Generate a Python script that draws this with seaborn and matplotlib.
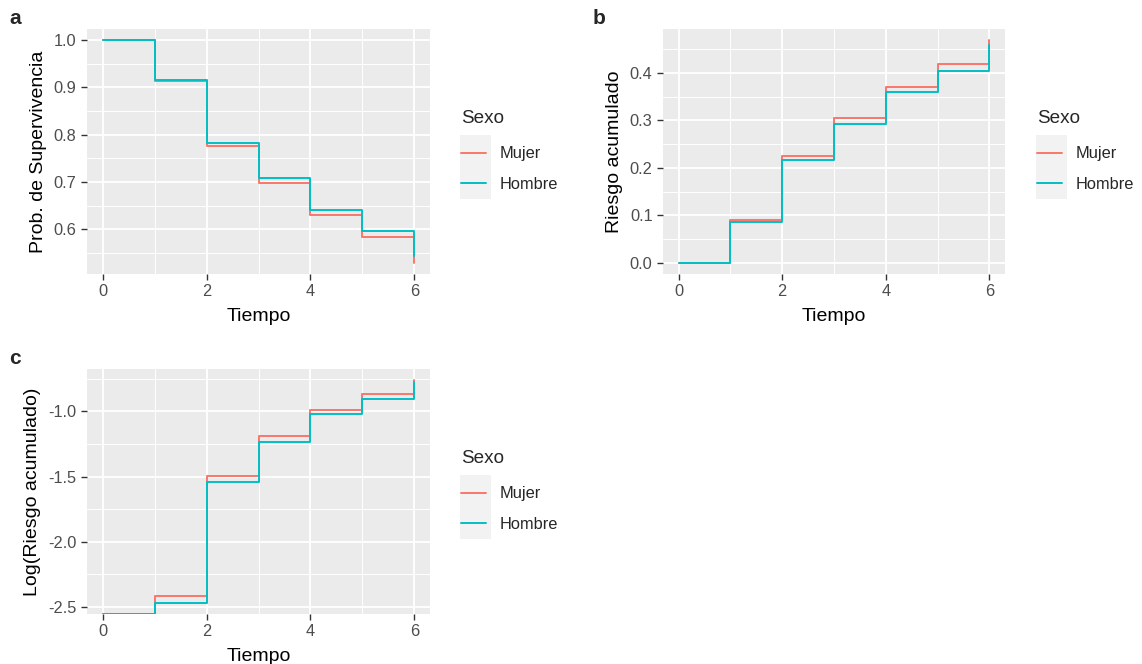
import numpy as np
import pandas as pd
import matplotlib.pyplot as plt
from matplotlib.patches import Rectangle
from matplotlib.ticker import MultipleLocator
import seaborn as sns

tiempo = [0, 1, 2, 3, 4, 5, 6]
sexo = ['Mujer', 'Hombre']
colores = ['#F8766D', '#00BFC4']

superv_mujer = [1.0, 0.913, 0.776, 0.697, 0.630, 0.583, 0.529]
superv_hombre = [1.0, 0.915, 0.783, 0.708, 0.640, 0.596, 0.544]

riesgo_mujer = [0.0, 0.090, 0.226, 0.304, 0.370, 0.418, 0.469]
riesgo_hombre = [0.0, 0.087, 0.217, 0.292, 0.359, 0.403, 0.458]

# log(0) = -Inf at t=0, drawn at the bottom edge of the panel like ggplot
logr_mujer = [-np.inf, -2.415, -1.496, -1.190, -0.990, -0.871, -0.761]
logr_hombre = [-np.inf, -2.469, -1.539, -1.234, -1.023, -0.905, -0.776]

sns.set_style('darkgrid', {'axes.facecolor': '#EBEBEB', 'grid.color': 'white'})
plt.rcParams['font.family'] = ['Liberation Sans', 'DejaVu Sans']
plt.rcParams['axes.unicode_minus'] = False

W, H = 1142, 664
fig = plt.figure(figsize=(W / 100, H / 100), dpi=100)


def tabla(mujer, hombre):
    return pd.DataFrame({'Tiempo': tiempo * 2,
                         'valor': list(mujer) + list(hombre),
                         'Sexo': ['Mujer'] * len(tiempo) + ['Hombre'] * len(tiempo)})


def panel(rect, df, ylabel, ystep, letra, letra_xy, leg_xy, ylim=None):
    ax = fig.add_axes([rect[0] / W, 1 - rect[3] / H, (rect[2] - rect[0]) / W, (rect[3] - rect[1]) / H])
    sns.lineplot(data=df, x='Tiempo', y='valor', hue='Sexo', hue_order=sexo,
                 palette=colores, drawstyle='steps-post', linewidth=1.4,
                 estimator=None, ax=ax)
    ax.set_xlim(-0.3, 6.3)
    if ylim is not None:
        ax.set_ylim(*ylim)
    ax.xaxis.set_major_locator(MultipleLocator(2))
    ax.xaxis.set_minor_locator(MultipleLocator(1))
    ax.yaxis.set_major_locator(MultipleLocator(ystep))
    ax.yaxis.set_minor_locator(MultipleLocator(ystep / 2))
    ax.grid(which='major', color='white', linewidth=1.3)
    ax.grid(which='minor', color='white', linewidth=0.7)
    ax.tick_params(which='major', length=4.5, width=1.0, color='#333333',
                   labelcolor='#4D4D4D', labelsize=11.8, pad=3)
    ax.tick_params(which='minor', length=0)
    ax.tick_params(axis='both', which='both', bottom=True, left=True)
    for s in ax.spines.values():
        s.set_visible(False)
    ax.set_xlabel('Tiempo', fontsize=14, color='black')
    ax.set_ylabel(ylabel, fontsize=14, color='black', labelpad=5)
    ax.xaxis.set_label_coords(0.5, -0.14)
    sns.move_legend(ax, 'upper left', bbox_to_anchor=(leg_xy[0] / W, 1 - leg_xy[1] / H),
                    bbox_transform=fig.transFigure, frameon=False, title='Sexo',
                    fontsize=11.8, title_fontsize=13.6, alignment='left',
                    handlelength=1.52, handletextpad=0.83, labelspacing=0.95,
                    borderpad=0, borderaxespad=0)
    leg = ax.get_legend()
    leg._legend_box.sep = 0.95 * 11.8 + 2.8
    fig.add_artist(Rectangle(((leg_xy[0] - 1) / W, 1 - (leg_xy[1] + 89) / H), 31 / W, 64 / H,
                             transform=fig.transFigure, facecolor='#F2F2F2',
                             edgecolor='none', zorder=-1))
    fig.text(letra_xy[0] / W, 1 - letra_xy[1] / H, letra, fontsize=15,
             fontweight='bold', va='center', ha='left')
    return ax


panel((87, 29, 430, 274), tabla(superv_mujer, superv_hombre),
      'Prob. de Supervivencia', 0.1, 'a', (9, 18), (461, 110))

panel((663, 29, 1005, 274), tabla(riesgo_mujer, riesgo_hombre),
      'Riesgo acumulado', 0.1, 'b', (593, 18), (1037, 110))

finitos = [v for v in logr_mujer + logr_hombre if np.isfinite(v)]
lo, hi = min(finitos), max(finitos)
pad = 0.05 * (hi - lo)
lims = (lo - pad, hi + pad)
logr_m = [v if np.isfinite(v) else lims[0] for v in logr_mujer]
logr_h = [v if np.isfinite(v) else lims[0] for v in logr_hombre]
panel((87, 369, 430, 614), tabla(logr_m, logr_h),
      'Log(Riesgo acumulado)', 0.5, 'c', (9, 358), (461, 450), ylim=lims)

fig.savefig('out.png', dpi=100)
